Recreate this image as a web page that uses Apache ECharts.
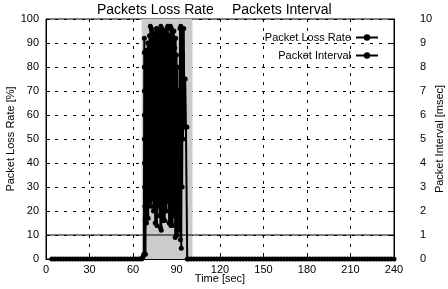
<!DOCTYPE html>
<html>
<head>
  <meta charset="utf-8">
  <script src="https://cdn.jsdelivr.net/npm/echarts@6/dist/echarts.min.js"></script>
  <style>
    html, body { margin: 0; padding: 0; background: #fff; }
    #chart { width: 448px; height: 289px; }
  </style>
</head>
<body>
  <div id="chart"></div>
  <script>
    // tick labels
    const timeTicks = [0, 30, 60, 90, 120, 150, 180, 210, 240];

    // samples before the burst (loss = 0)
    const preTimes = [4, 6, 8, 10, 12, 14, 16, 18, 20, 22, 24, 26, 28, 30, 32, 34, 36, 38, 40,
      42, 44, 46, 48, 50, 52, 54, 56, 58, 60, 62, 64, 66];
    const preLoss = [0, 0, 0, 0, 0, 0, 0, 0, 0, 0, 0, 0, 0, 0, 0, 0, 0, 0, 0,
      0, 0, 0, 0, 0, 0, 0, 0, 0, 0, 0, 0, 0];

    // the burst of losses (shaded period), [sec, %]
    const burstPoints = [
      [66.5, 0.5], [67, 1], [67.5, 2], [67.8, 92], [67.8, 86], [67.8, 80], [67.8, 70],
      [67.8, 60], [67.8, 50], [67.9, 40], [68, 30], [68.2, 22], [68.4, 16], [68.6, 2],
      [69.0, 87], [69.3, 15], [69.6, 80], [69.9, 28], [70.2, 90], [70.5, 17], [70.8, 70],
      [71.1, 24], [71.4, 93], [71.7, 30], [72.0, 97], [72.3, 22], [72.6, 96], [72.9, 40],
      [73.2, 95], [73.5, 25], [73.8, 88], [74.1, 20], [74.4, 92], [74.7, 35], [75.0, 94],
      [75.3, 15], [75.6, 90], [75.9, 28], [76.2, 96], [76.5, 14], [76.8, 85], [77.1, 22],
      [77.4, 93], [77.7, 45], [78.0, 95], [78.3, 18], [78.6, 90], [78.9, 13], [79.2, 97],
      [79.5, 12], [79.8, 96], [80.1, 25], [80.4, 88], [80.7, 16], [81.0, 94], [81.3, 30],
      [81.6, 92], [81.9, 16], [82.2, 95], [82.5, 40], [82.8, 90], [83.1, 20], [83.4, 96],
      [83.7, 50], [84.0, 97], [84.3, 24], [84.6, 93], [84.9, 15], [85.2, 91], [85.5, 35],
      [85.8, 97], [86.1, 14], [86.4, 96], [86.7, 28], [87.0, 94], [87.3, 14], [87.6, 90],
      [87.9, 18], [88.2, 95], [88.5, 30], [88.8, 88], [89.1, 9], [89.4, 92], [89.7, 22],
      [90.0, 85], [90.3, 10], [90.6, 80], [90.9, 25], [91.2, 70], [91.5, 12], [91.8, 60],
      [92.1, 20], [92.4, 96], [92.7, 8], [93.0, 97], [93.3, 4.5], [93.6, 96], [93.9, 30],
      [94.2, 85], [94.5, 50], [95.0, 96], [95.5, 55], [96.0, 75], [96.5, 55], [97.2, 55],
      [97.4, 0]
    ];

    // samples after the burst (loss = 0)
    const postTimes = [98, 100, 102, 104, 106, 108, 110, 112, 114, 116, 118, 120, 122, 124, 126,
      128, 130, 132, 134, 136, 138, 140, 142, 144, 146, 148, 150, 152, 154, 156, 158, 160, 162,
      164, 166, 168, 170, 172, 174, 176, 178, 180, 182, 184, 186, 188, 190, 192, 194, 196, 198,
      200, 202, 204, 206, 208, 210, 212, 214, 216, 218, 220, 222, 224, 226, 228, 230, 232, 234,
      236, 238, 240];
    const postLoss = [0, 0, 0, 0, 0, 0, 0, 0, 0, 0, 0, 0, 0, 0, 0,
      0, 0, 0, 0, 0, 0, 0, 0, 0, 0, 0, 0, 0, 0, 0, 0, 0, 0,
      0, 0, 0, 0, 0, 0, 0, 0, 0, 0, 0, 0, 0, 0, 0, 0, 0, 0,
      0, 0, 0, 0, 0, 0, 0, 0, 0, 0, 0, 0, 0, 0, 0, 0, 0, 0,
      0, 0, 0];

    // packet interval [msec]
    const intervalTimes = [0, 240];
    const intervalMsec = [1.0, 1.0];

    // shaded period [sec]
    const shadeRange = [66, 101];

    const lossData = preTimes.map((t, i) => [t, preLoss[i]])
      .concat(burstPoints)
      .concat(postTimes.map((t, i) => [t, postLoss[i]]));
    const intervalData = intervalTimes.map((t, i) => [t, intervalMsec[i]]);

    const font = 'Liberation Sans, Arial, sans-serif';
    const chart = echarts.init(document.getElementById('chart'));

    const gridLine = { show: true, lineStyle: { color: '#000', type: [3, 6], width: 1 } };
    const txt = { fontSize: 11, fontFamily: font, color: '#000' };

    chart.setOption({
      animation: false,
      backgroundColor: '#fff',
      textStyle: { fontFamily: font, color: '#000' },
      title: [
        { text: 'Packets Loss Rate', left: 92, top: -2,
          textStyle: { fontSize: 14, fontWeight: 'normal', fontFamily: font, color: '#000' } },
        { text: 'Packets Interval', left: 227, top: -2,
          textStyle: { fontSize: 14, fontWeight: 'normal', fontFamily: font, color: '#000' } }
      ],
      legend: {
        orient: 'vertical',
        right: 64,
        top: 27,
        align: 'right',
        itemGap: 7,
        itemWidth: 22,
        itemHeight: 8,
        textStyle: txt,
        data: ['Packet Loss Rate', 'Packet Interval']
      },
      grid: {
        left: 46, right: 54, top: 19, bottom: 30,
        outerBoundsMode: 'none',
        show: true, borderColor: '#000', borderWidth: 1
      },
      xAxis: {
        type: 'value',
        min: 0, max: 240, interval: 30,
        name: 'Time [sec]', nameLocation: 'middle', nameGap: 14, nameMoveOverlap: false,
        nameTextStyle: txt,
        axisLine: { lineStyle: { color: '#000' } },
        axisTick: { inside: true, length: 4, lineStyle: { color: '#000' } },
        axisLabel: Object.assign({ margin: 5,
          formatter: v => timeTicks.includes(v) ? String(v) : '' }, txt),
        splitLine: gridLine
      },
      yAxis: [
        {
          type: 'value', min: 0, max: 100, interval: 10,
          name: 'Packet Loss Rate [%]', nameLocation: 'middle', nameGap: 30, nameRotate: 90,
          nameMoveOverlap: false,
          nameTextStyle: txt,
          axisLine: { show: true, lineStyle: { color: '#000' } },
          axisTick: { show: true, inside: true, length: 4, lineStyle: { color: '#000' } },
          axisLabel: Object.assign({ margin: 7 }, txt),
          splitLine: gridLine
        },
        {
          type: 'value', min: 0, max: 10, interval: 1,
          name: 'Packet Interval [msec]', nameLocation: 'middle', nameGap: 40, nameRotate: 90,
          nameMoveOverlap: false,
          nameTextStyle: txt,
          axisLine: { show: true, lineStyle: { color: '#000' } },
          axisTick: { show: true, inside: true, length: 4, lineStyle: { color: '#000' } },
          axisLabel: Object.assign({ margin: 26 }, txt),
          splitLine: { show: false }
        }
      ],
      series: [
        {
          name: 'Packet Loss Rate',
          type: 'line',
          yAxisIndex: 0,
          data: lossData,
          symbol: 'circle',
          symbolSize: 5,
          showAllSymbol: true,
          color: '#000',
          lineStyle: { color: '#000', width: 2 },
          itemStyle: { color: '#000' },
          z: 3,
          markArea: {
            silent: true,
            itemStyle: { color: '#cbcbcb' },
            data: [[{ xAxis: shadeRange[0] }, { xAxis: shadeRange[1] }]]
          }
        },
        {
          name: 'Packet Interval',
          type: 'line',
          yAxisIndex: 1,
          data: intervalData,
          symbol: 'circle',
          symbolSize: 4,
          showSymbol: false,
          color: '#000',
          lineStyle: { color: '#000', width: 1 },
          itemStyle: { color: '#000' },
          z: 2
        }
      ]
    });
  </script>
</body>
</html>
